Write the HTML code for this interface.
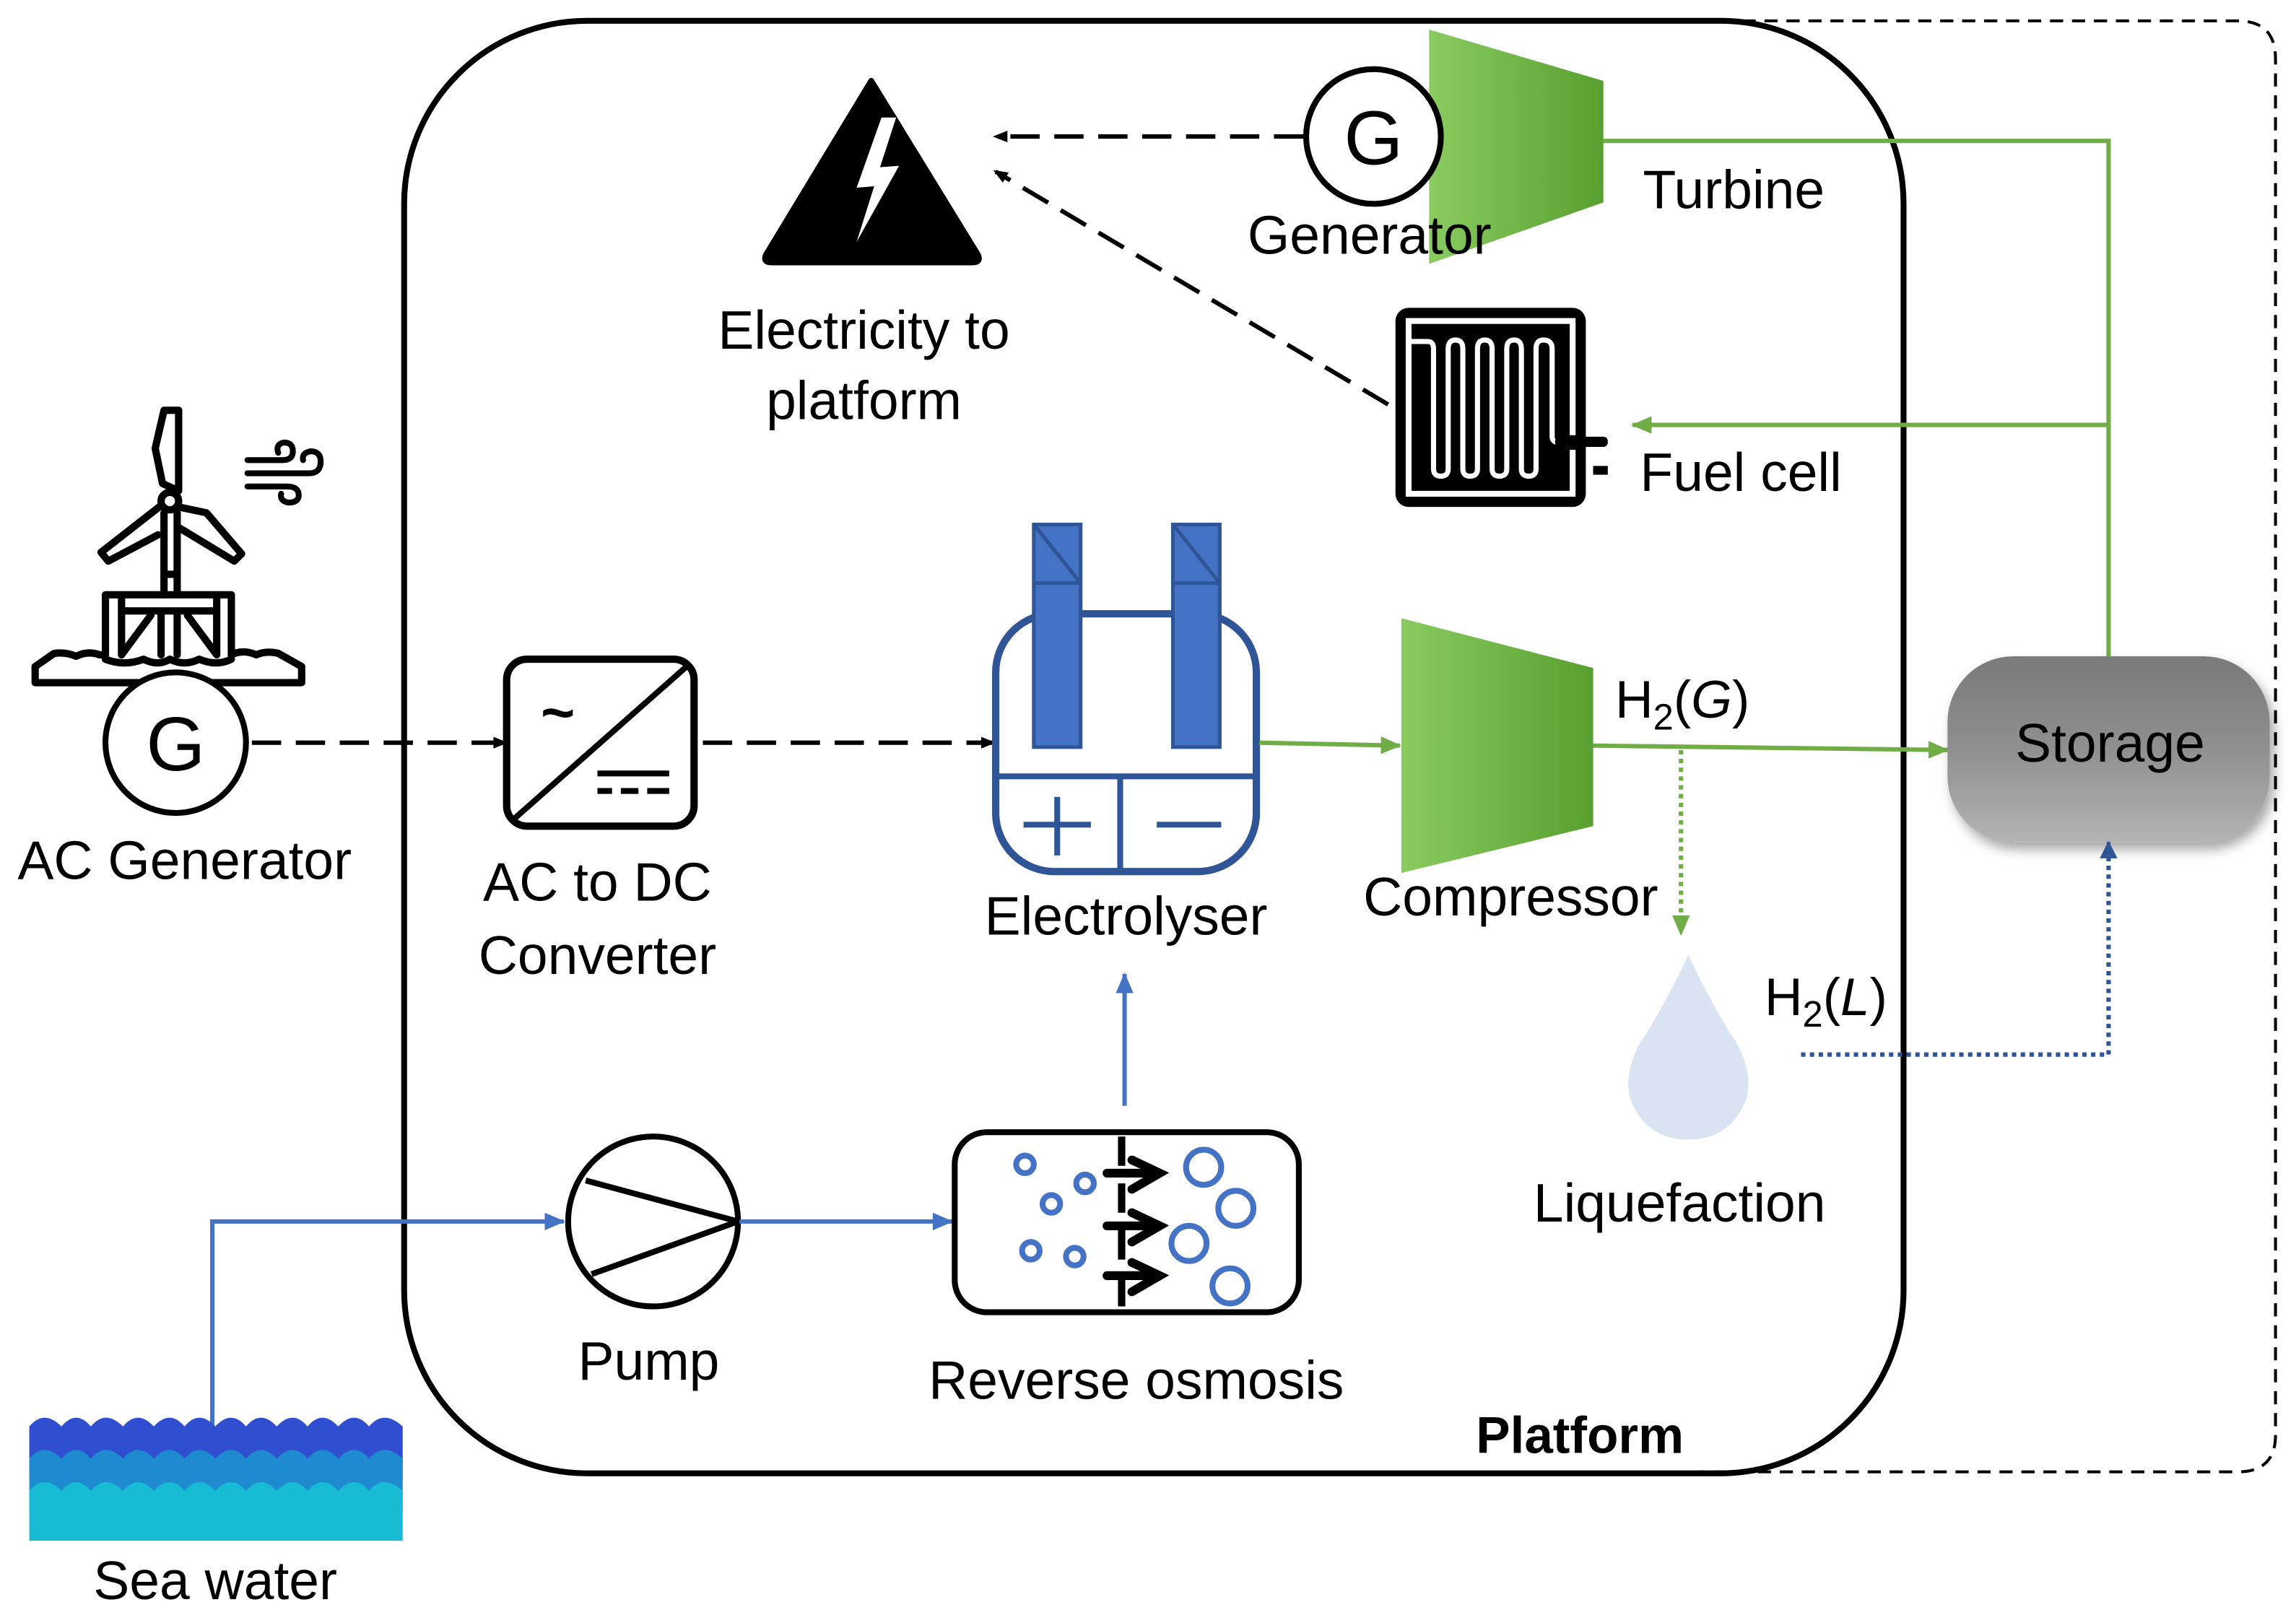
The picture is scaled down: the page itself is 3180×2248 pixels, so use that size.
<!DOCTYPE html>
<html><head><meta charset="utf-8"><style>
html,body{margin:0;padding:0;background:#fff;}
svg{display:block;}
text{font-family:"Liberation Sans",sans-serif;}
</style></head><body>
<svg width="3180" height="2248" viewBox="0 0 1568 1108" xmlns="http://www.w3.org/2000/svg">
<defs>
<linearGradient id="gr" x1="0" y1="0" x2="1" y2="0"><stop offset="0" stop-color="#8acb60"/><stop offset="1" stop-color="#58a030"/></linearGradient>
<linearGradient id="gy" x1="0" y1="0" x2="0" y2="1"><stop offset="0" stop-color="#7a7a7a"/><stop offset="0.5" stop-color="#8f8f8f"/><stop offset="1" stop-color="#b4b4b4"/></linearGradient>
<marker id="ab" markerWidth="10" markerHeight="10" refX="8" refY="5" orient="auto" markerUnits="userSpaceOnUse"><path d="M0,1 L10,5 L0,9z" fill="#000"/></marker>
<marker id="ag" markerWidth="14" markerHeight="12" refX="13" refY="6" orient="auto" markerUnits="userSpaceOnUse"><path d="M0,0 L14,6 L0,12z" fill="#70ad47"/></marker>
<marker id="abl" markerWidth="14" markerHeight="12" refX="13" refY="6" orient="auto" markerUnits="userSpaceOnUse"><path d="M0,0 L14,6 L0,12z" fill="#4472c4"/></marker>
<marker id="adb" markerWidth="12" markerHeight="12" refX="11" refY="6" orient="auto" markerUnits="userSpaceOnUse"><path d="M0,0 L12,6 L0,12z" fill="#2f5597"/></marker>
<filter id="sh" x="-20%" y="-20%" width="150%" height="150%"><feDropShadow dx="3" dy="5" stdDeviation="4" flood-color="#000" flood-opacity="0.35"/></filter>
</defs>

<!-- outer dashed -->
<path d="M1160,14 H1528 Q1554,14 1554,40 V980 Q1554,1005 1528,1005 H1160" fill="none" stroke="#000" stroke-width="2" stroke-dasharray="9,6"/>
<!-- platform -->
<rect x="276" y="14" width="1024" height="992" rx="125" fill="none" stroke="#000" stroke-width="4"/>
<text x="1008" y="992" font-size="35" font-weight="bold">Platform</text>

<!-- electricity triangle -->
<path d="M595,55 L668,174 Q670,179 664,179 L527,179 Q521,179 523,174 Z" fill="#000" stroke="#000" stroke-width="4" stroke-linejoin="round"/>
<path d="M602,80 L585,128 L597,127 L585,165 L614,113 L601,114 L612,80 Z" fill="#fff"/>
<text x="590" y="238" font-size="37" text-anchor="middle">Electricity to</text>
<text x="590" y="286" font-size="37" text-anchor="middle">platform</text>

<!-- dashed arrows to electricity -->
<line x1="890" y1="93" x2="680" y2="93" stroke="#000" stroke-width="3" stroke-dasharray="20,10" marker-end="url(#ab)"/>
<line x1="948" y1="276" x2="680" y2="117" stroke="#000" stroke-width="3" stroke-dasharray="20,10" marker-end="url(#ab)"/>

<!-- green lines -->
<path d="M1440,448 V96 H1062" fill="none" stroke="#70ad47" stroke-width="3" marker-end="url(#ag)"/>
<line x1="1440" y1="290" x2="1115" y2="290" stroke="#70ad47" stroke-width="3" marker-end="url(#ag)"/>

<!-- turbine -->
<polygon points="976,20 1095,55 1095,138 976,180" fill="url(#gr)"/>
<circle cx="938" cy="93" r="46" fill="#fff" stroke="#000" stroke-width="4"/>
<text x="938" y="112" font-size="52" text-anchor="middle">G</text>
<text x="852" y="173" font-size="37">Generator</text>
<text x="1122" y="142" font-size="37">Turbine</text>

<!-- fuel cell -->
<rect x="953" y="210" width="130" height="136" rx="9" fill="#000"/>
<rect x="960" y="217" width="116" height="122" fill="#fff"/>
<rect x="964" y="221" width="108" height="114" fill="#000"/>
<rect x="1072" y="297" width="6" height="10" fill="#000"/>
<path d="M962,233 H975 Q979,233 979,238 V320 Q979,325 984,325 Q989,325 989,320 V238 Q989,232 994,232 Q999,232 999,238 V320 Q999,325 1004,325 Q1009,325 1009,320 V238 Q1009,232 1014,232 Q1019,232 1019,238 V320 Q1019,325 1024,325 Q1029,325 1029,320 V238 Q1029,232 1034,232 Q1039,232 1039,238 V320 Q1039,325 1044,325 Q1049,325 1049,320 V238 Q1049,232 1054,232 Q1060,232 1060,238 V298 Q1060,302 1065,302 H1080" fill="none" stroke="#fff" stroke-width="3.5"/>
<rect x="1062" y="298" width="36" height="7" rx="3" fill="#000"/>
<rect x="1088" y="318" width="10" height="6" fill="#000"/>
<text x="1120" y="335" font-size="37">Fuel cell</text>

<!-- wind turbine icon -->
<g fill="none" stroke="#000" stroke-width="5" stroke-linejoin="round" stroke-linecap="round">
<path d="M112,280 H122 V335 L111,330 L106,306 Z"/>
<circle cx="116" cy="342" r="6"/>
<path d="M110,345 L69,377 L74,383 L108,365"/>
<path d="M122,346 L141,350 L165,378 L160,383 L122,360"/>
<path d="M112,350 V406 M121,350 V406 M112,392 H121"/>
<path d="M72,447 V406 H158 V447 M83,406 V447 M148,406 V447 M83,417 H148 M83,447 L103,420 M148,447 L128,420 M110,420 V447 M121,420 V447"/>
<path d="M24,465 V455 L37,446 Q45,445 52,448 Q60,444 68,447 L72,447 M158,447 Q166,443 175,447 Q182,444 190,446 L206,455 V466 H24"/>
<path d="M72,450 Q85,455 98,450 Q108,455 116,450 Q126,455 136,450 Q148,455 158,450"/>
</g>
<g fill="none" stroke="#000" stroke-width="4" stroke-linecap="round">
<path d="M169,314 H193 Q200,314 200,308 Q200,302 194,302 Q188,303 190,309"/>
<path d="M169,323 H211 Q219,323 219,315 Q219,308 212,308 Q206,309 207,314"/>
<path d="M169,332 H196 Q204,332 204,338 Q204,343 197,343 Q191,342 192,337"/>
</g>

<!-- AC generator -->
<circle cx="120" cy="507" r="48" fill="#fff" stroke="#000" stroke-width="4"/>
<text x="120" y="526" font-size="52" text-anchor="middle">G</text>
<text x="12" y="600" font-size="37">AC Generator</text>
<line x1="172" y1="507" x2="345" y2="507" stroke="#000" stroke-width="3" stroke-dasharray="20,10" marker-end="url(#ab)"/>

<!-- AC/DC -->
<rect x="346" y="450" width="128" height="114" rx="14" fill="#fff" stroke="#000" stroke-width="5"/>
<line x1="350" y1="560" x2="470" y2="454" stroke="#000" stroke-width="4"/>
<text x="381" y="500" font-size="40" font-weight="bold" text-anchor="middle">~</text>
<path d="M408,528 H457 M408,540 H418 M424,540 H436 M442,540 H457" stroke="#000" stroke-width="4"/>
<text x="408" y="615" font-size="37" text-anchor="middle">AC to DC</text>
<text x="408" y="665" font-size="37" text-anchor="middle">Converter</text>
<line x1="480" y1="507" x2="678" y2="507" stroke="#000" stroke-width="3" stroke-dasharray="20,10" marker-end="url(#ab)"/>

<!-- electrolyser -->
<rect x="680" y="419" width="178" height="176" rx="40" fill="#fff" stroke="#2f5597" stroke-width="5"/>
<line x1="680" y1="530" x2="858" y2="530" stroke="#2f5597" stroke-width="4"/>
<line x1="765" y1="530" x2="765" y2="595" stroke="#2f5597" stroke-width="4"/>
<path d="M722,544 V584 M699,563 H745 M790,563 H834" stroke="#2f5597" stroke-width="4"/>
<g fill="#4472c4" stroke="#2f5597" stroke-width="2.5">
<rect x="706" y="358" width="32" height="152"/>
<rect x="801" y="358" width="32" height="152"/>
<path d="M706,398 H738 M706,358 L738,398" fill="none"/>
<path d="M801,398 H833 M801,358 L833,398" fill="none"/>
</g>
<text x="769" y="638" font-size="37" text-anchor="middle">Electrolyser</text>
<line x1="860" y1="507" x2="956" y2="509" stroke="#70ad47" stroke-width="3" marker-end="url(#ag)"/>

<!-- compressor -->
<polygon points="957,422 1088,456 1088,564 957,596" fill="url(#gr)"/>
<text x="931" y="625" font-size="37">Compressor</text>
<text x="1103" y="490" font-size="36">H<tspan font-size="25" dy="8">2</tspan><tspan dy="-8">(</tspan><tspan font-style="italic">G</tspan>)</text>
<line x1="1088" y1="509" x2="1330" y2="512" stroke="#70ad47" stroke-width="3" marker-end="url(#ag)"/>
<line x1="1148" y1="512" x2="1148" y2="638" stroke="#70ad47" stroke-width="3" stroke-dasharray="3,3" marker-end="url(#ag)"/>

<!-- storage -->
<rect x="1330" y="448" width="220" height="127" rx="45" fill="url(#gy)" filter="url(#sh)"/>
<text x="1441" y="520" font-size="37" text-anchor="middle">Storage</text>

<!-- liquefaction -->
<path d="M1153,652 Q1135,690 1120,712 Q1108,735 1114,752 Q1125,778 1153,778 Q1181,778 1192,752 Q1198,735 1186,712 Q1171,690 1153,652 Z" fill="#d9e3f2"/>
<text x="1205" y="693" font-size="36">H<tspan font-size="25" dy="8">2</tspan><tspan dy="-8">(</tspan><tspan font-style="italic">L</tspan>)</text>
<path d="M1230,720 H1440 V575" fill="none" stroke="#2f5597" stroke-width="3" stroke-dasharray="3,3" marker-end="url(#adb)"/>
<text x="1147" y="834" font-size="37" text-anchor="middle">Liquefaction</text>

<!-- sea water & pump -->
<path d="M145,975 V834 H385" fill="none" stroke="#4472c4" stroke-width="3" marker-end="url(#abl)"/>
<circle cx="446" cy="834" r="58" fill="#fff" stroke="#000" stroke-width="4"/>
<path d="M400,806 L504,834 L404,870" fill="none" stroke="#000" stroke-width="4"/>
<text x="443" y="942" font-size="37" text-anchor="middle">Pump</text>
<line x1="505" y1="834" x2="650" y2="834" stroke="#4472c4" stroke-width="3" marker-end="url(#abl)"/>

<!-- reverse osmosis -->
<rect x="652" y="773" width="235" height="123" rx="22" fill="#fff" stroke="#000" stroke-width="4"/>
<line x1="768" y1="755" x2="768" y2="665" stroke="#4472c4" stroke-width="3" marker-end="url(#abl)"/>
<path d="M766,776 V892" stroke="#000" stroke-width="5" stroke-dasharray="20,12"/>
<g fill="none" stroke="#000" stroke-width="6" stroke-linecap="round">
<path d="M756,801 H789 M773,792 L792,801 L773,812"/>
<path d="M756,837 H789 M773,828 L792,837 L773,848"/>
<path d="M756,871 H789 M773,862 L792,871 L773,882"/>
</g>
<g fill="none" stroke="#4472c4" stroke-width="4">
<circle cx="700" cy="795" r="6"/><circle cx="741" cy="808" r="6"/><circle cx="718" cy="822" r="6"/>
<circle cx="704" cy="854" r="6"/><circle cx="734" cy="858" r="6"/>
<circle cx="822" cy="797" r="12"/><circle cx="844" cy="825" r="12"/>
<circle cx="812" cy="849" r="12"/><circle cx="840" cy="878" r="12"/>
</g>
<text x="776" y="955" font-size="37" text-anchor="middle">Reverse osmosis</text>

<!-- sea water waves -->
<g>
<path d="M20,1010 V974 Q30,962 42,974 Q52,962 62,974 Q72,962 84,974 Q94,962 105,974 Q116,962 126,974 Q136,962 147,974 Q158,962 168,974 Q178,962 189,974 Q200,962 210,974 Q220,962 231,974 Q242,962 252,974 Q262,962 275,974 V1010 Z" fill="#2f4fd0"/>
<path d="M20,1032 V996 Q30,984 42,996 Q52,984 62,996 Q72,984 84,996 Q94,984 105,996 Q116,984 126,996 Q136,984 147,996 Q158,984 168,996 Q178,984 189,996 Q200,984 210,996 Q220,984 231,996 Q242,984 252,996 Q262,984 275,996 V1032 Z" fill="#1e8ad0"/>
<path d="M20,1052 V1018 Q30,1006 42,1018 Q52,1006 62,1018 Q72,1006 84,1018 Q94,1006 105,1018 Q116,1006 126,1018 Q136,1006 147,1018 Q158,1006 168,1018 Q178,1006 189,1018 Q200,1006 210,1018 Q220,1006 231,1018 Q242,1006 252,1018 Q262,1006 275,1018 V1052 Z" fill="#17bcd4"/>
</g>
<text x="147" y="1092" font-size="37" text-anchor="middle">Sea water</text>
</svg>
</body></html>
